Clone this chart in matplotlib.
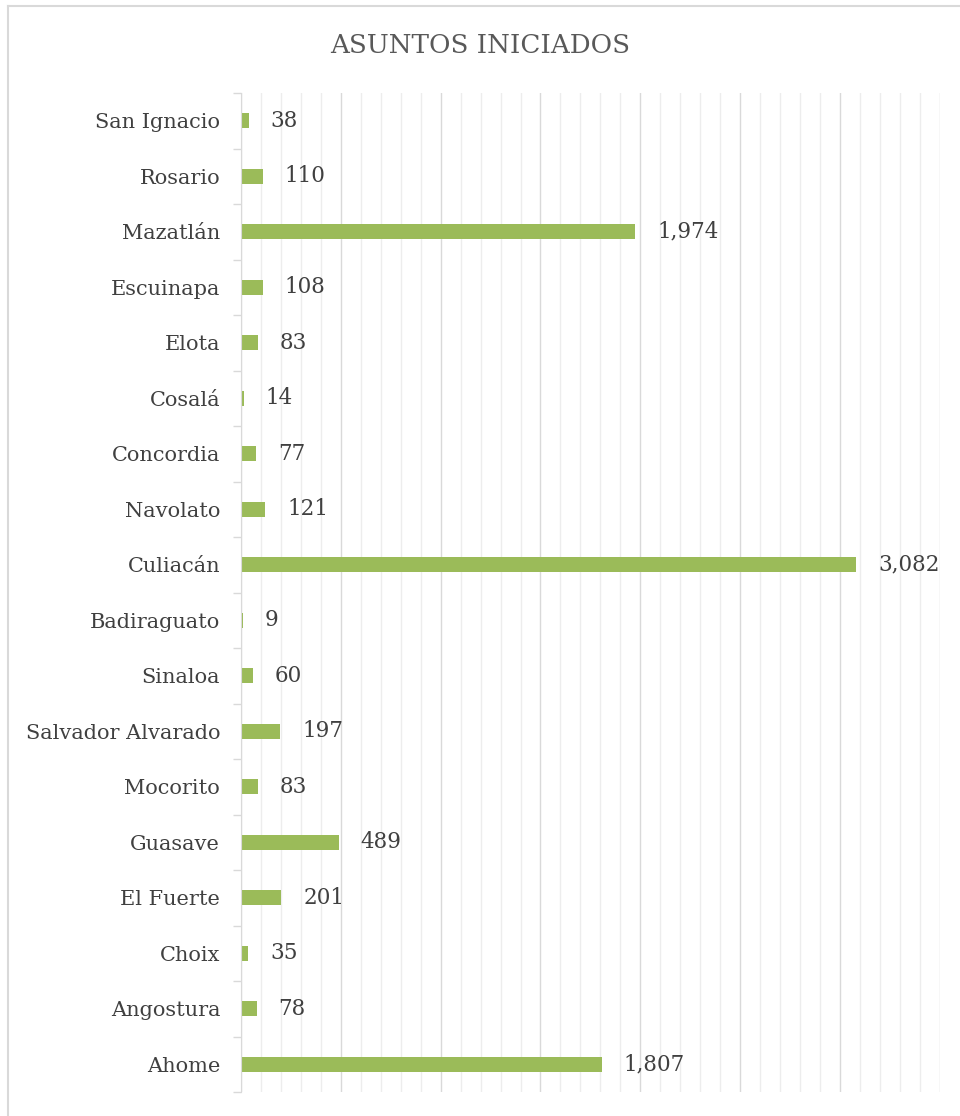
import matplotlib.pyplot as plt
from matplotlib.ticker import MultipleLocator, FixedLocator, NullFormatter
from matplotlib.lines import Line2D

municipios = ["Ahome", "Angostura", "Choix", "El Fuerte", "Guasave", "Mocorito",
              "Salvador Alvarado", "Sinaloa", "Badiraguato", "Culiacán", "Navolato",
              "Concordia", "Cosalá", "Elota", "Escuinapa", "Mazatlán", "Rosario",
              "San Ignacio"]
asuntos = [1807, 78, 35, 201, 489, 83, 197, 60, 9, 3082, 121, 77, 14, 83, 108,
           1974, 110, 38]

BAR = "#9BBB59"
TEXT = "#404040"
FONT = "DejaVu Serif"

fig = plt.figure(figsize=(9.6, 11.16), dpi=100)
ax = fig.add_axes([0.251, 0.0215, 0.728, 0.895])

pos = list(range(len(municipios)))
ax.barh(pos, asuntos, height=0.27, color=BAR, zorder=3)

ax.set_xlim(0, 3500)
ax.set_ylim(-0.5, len(municipios) - 0.5)

# gridlines: major every 500, minor every 100
ax.xaxis.set_major_locator(MultipleLocator(500))
ax.xaxis.set_minor_locator(MultipleLocator(100))
ax.grid(axis="x", which="minor", color="#EDEDED", linewidth=1, zorder=0)
ax.grid(axis="x", which="major", color="#D9D9D9", linewidth=1, zorder=1)
ax.tick_params(axis="x", which="both", length=0, labelbottom=False)

# category labels, ticks at boundaries
ax.yaxis.set_major_locator(FixedLocator(pos))
ax.set_yticklabels(municipios, fontfamily=FONT, fontsize=15, color=TEXT)
ax.tick_params(axis="y", which="major", length=0, pad=15)
ax.yaxis.set_minor_locator(FixedLocator([p - 0.5 for p in pos] + [len(pos) - 0.5]))
ax.yaxis.set_minor_formatter(NullFormatter())
ax.tick_params(axis="y", which="minor", length=6, color="#D9D9D9", width=1)

for s in ["top", "right", "bottom"]:
    ax.spines[s].set_visible(False)
ax.spines["left"].set_color("#D9D9D9")
ax.spines["left"].set_zorder(4)

for p, v in zip(pos, asuntos):
    ax.annotate(f"{v:,}", xy=(v, p), xytext=(22, 0), textcoords="offset pixels",
                ha="left", va="center", fontfamily=FONT, fontsize=15.5, color=TEXT)

fig.text(0.5, 0.959, "ASUNTOS INICIADOS", ha="center", va="center",
         fontfamily=FONT, fontsize=18.8, color="#595959")

# chart area border (left and top visible)
fig.add_artist(Line2D([8 / 960, 8 / 960], [0, 1 - 6 / 1116], transform=fig.transFigure,
                      color="#D9D9D9", linewidth=1.5))
fig.add_artist(Line2D([8 / 960, 1], [1 - 6 / 1116, 1 - 6 / 1116], transform=fig.transFigure,
                      color="#D9D9D9", linewidth=1.5))

fig.savefig("out.png", dpi=100)
